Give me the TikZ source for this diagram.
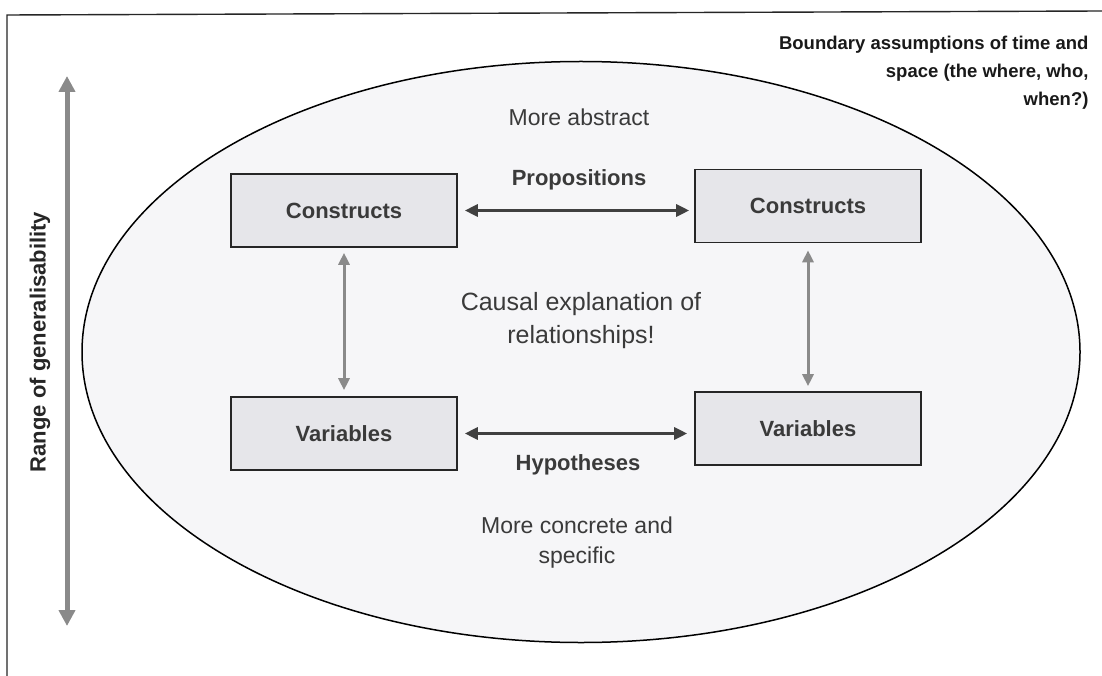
\documentclass[tikz,border=0pt]{standalone}
\usepackage{fontspec}
\setmainfont{Liberation Sans}
\usetikzlibrary{arrows.meta,shapes.geometric}
\definecolor{txt}{HTML}{3A3A3A}
\definecolor{boxfill}{HTML}{E6E6EA}
\definecolor{ellfill}{HTML}{F6F6F8}
\definecolor{vgray}{HTML}{8A8A8A}
\definecolor{hdark}{HTML}{404040}
\tikzset{
  conbox/.style={draw=black!85, line width=1.6pt, fill=boxfill, minimum width=226pt, minimum height=73pt, inner sep=0pt, text=txt, font=\fontsize{22}{26}\selectfont\bfseries},
  harrow/.style={draw=hdark, line width=3pt, {Triangle[length=13pt,width=12pt]}-{Triangle[length=13pt,width=12pt]}},
  varrow/.style={draw=vgray, line width=3pt, {Triangle[length=12pt,width=11pt]}-{Triangle[length=12pt,width=11pt]}},
  biglabel/.style={text=txt, font=\fontsize{22}{26}\selectfont\bfseries},
  plain/.style={text=txt, align=center},
}
\begin{document}
\begin{tikzpicture}[x=1pt,y=-1pt]
\useasboundingbox (0,0) rectangle (1102,676);
\fill[white] (0,0) rectangle (1102,676);
% frame lines
\coordinate (fa) at (7,676);
\coordinate (fb) at (7,15);
\coordinate (fc) at (1102,11);
\draw[line width=1.4pt, black!85] (fa) -- (fb) -- (fc);
% ellipse
\node[draw=black, line width=1.5pt, fill=ellfill, ellipse, minimum width=998pt, minimum height=581pt, inner sep=0pt] (ell) at (581,352) {};
% boxes
\node[conbox] (c1) at (344,210.5) {Constructs};
\node[conbox] (c2) at (808,206) {Constructs};
\node[conbox] (v1) at (344,433.5) {Variables};
\node[conbox] (v2) at (808,428.5) {Variables};
% connectors
\draw[harrow, shorten <=7pt, shorten >=5pt] (c1.east) -- (c1.east -| c2.west);
\draw[harrow, shorten <=7pt, shorten >=7pt] (v1.east) -- (v1.east -| v2.west);
\draw[varrow, shorten <=5pt, shorten >=6pt] (c1.south) -- (v1.north);
\draw[varrow, shorten <=7pt, shorten >=5pt] (c2.south) -- (v2.north);
% labels
\node[biglabel] (prop) at (579,180) {Propositions};
\node[biglabel] (hyp) at (578,465) {Hypotheses};
\node[plain, font=\fontsize{23}{30}\selectfont] (abs) at (579,117) {More abstract};
\node[plain, font=\fontsize{25}{33}\selectfont] (caus) at (581,321) {Causal explanation of\\relationships!};
\node[plain, font=\fontsize{23}{30}\selectfont] (conc) at (577,543) {More concrete and\\specific};
\node[text=black!90, align=right, anchor=north east, font=\fontsize{18.5}{28}\selectfont\bfseries] (bound) at (1092,33) {Boundary assumptions of time and\\space (the where, who,\\when?)};
% range arrow
\coordinate (rtop) at (67,76);
\coordinate (rbot) at (67,626);
\draw[draw=vgray, line width=5pt, {Triangle[length=16pt,width=16pt]}-{Triangle[length=16pt,width=16pt]}] (rtop) -- (rbot);
\node[biglabel, rotate=90, text=black!85] (range) at (40,342) {Range of generalisability};
\end{tikzpicture}
\end{document}
